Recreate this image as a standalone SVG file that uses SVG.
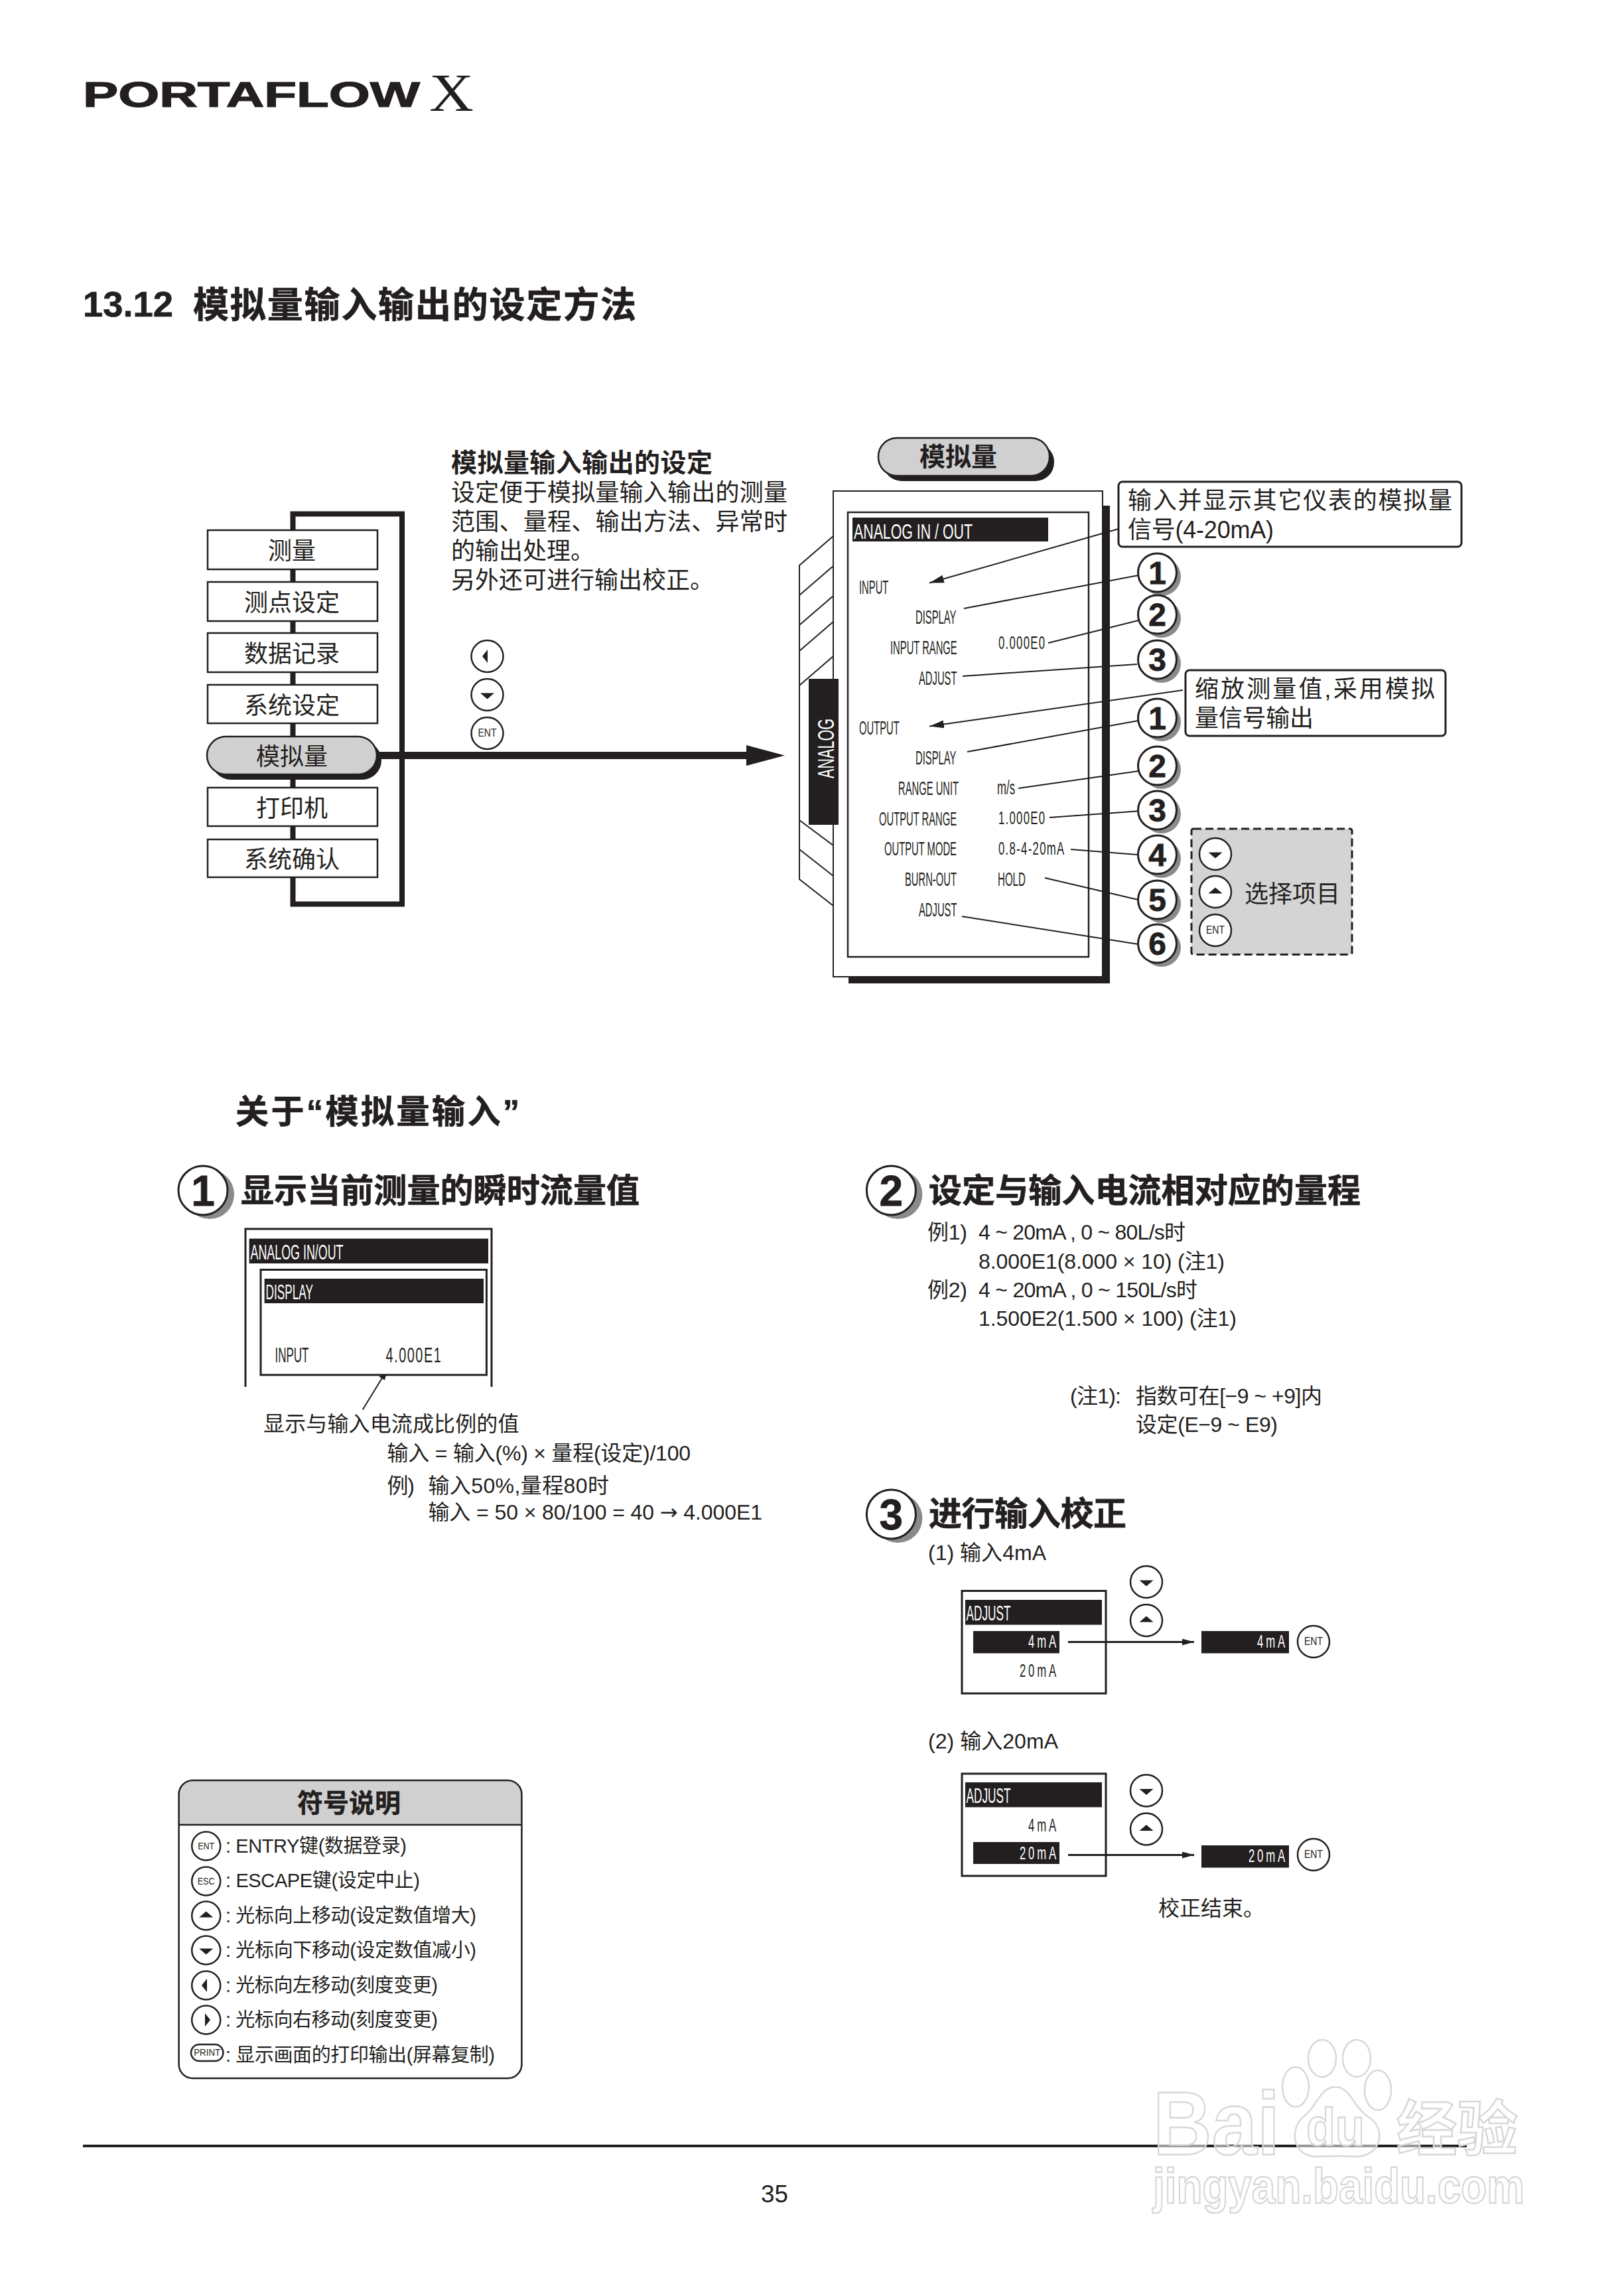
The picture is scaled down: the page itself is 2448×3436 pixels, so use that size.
<svg xmlns="http://www.w3.org/2000/svg" width="2448" height="3436" viewBox="0 0 2448 3436">
<style>
text{font-family:"Liberation Sans","Noto Sans CJK SC",sans-serif;fill:#231f20}
.c{font-size:36px}.t{font-size:32px}.h{font-size:50px;font-weight:700;stroke:#231f20;stroke-width:.7}.b{font-weight:700}
.lab{font-size:29px}.val{font-size:27px}.lcd{font-size:32px}.w{fill:#fff}
.sm{font-size:29px}
.box{fill:#fff;stroke:#231f20;stroke-width:2.5}
.key{fill:#fff;stroke:#231f20;stroke-width:2.5}
.num{fill:#fff;stroke:#231f20;stroke-width:3}
.sh{fill:#8a8a8a}
.ld{fill:none;stroke:#231f20;stroke-width:2}
.blk{fill:#231f20}
.wm{fill:#fff;fill-opacity:.55;stroke:#d8d8d8;stroke-width:2.5}
.wmt{fill:#fff;fill-opacity:.55;stroke:#d8d8d8;stroke-width:2.5;font-weight:700}
.d{font-size:48px;font-weight:700;text-anchor:middle;stroke:#231f20;stroke-width:.8}
.D{font-size:64px;font-weight:700;text-anchor:middle;stroke:#231f20;stroke-width:.8}
.e{font-size:17px;text-anchor:middle}
.e2{font-size:15px;text-anchor:middle}
</style>
<defs>
<marker id="ah" markerUnits="userSpaceOnUse" markerWidth="24" markerHeight="12" refX="22" refY="6" orient="auto"><path d="M0,0 L22,6 L0,12 Z" fill="#231f20"/></marker>
<marker id="ah2" markerUnits="userSpaceOnUse" markerWidth="20" markerHeight="12" refX="18" refY="5" orient="auto"><path d="M0,0 L18,5 L0,10 Z" fill="#231f20"/></marker>
<polygon id="up" points="-10.5,4.5 10.5,4.5 0,-4.5" fill="#231f20"/>
<polygon id="dn" points="-10.5,-4.5 10.5,-4.5 0,4.5" fill="#231f20"/>
<polygon id="lf" points="4,-10 4,10 -4,0" fill="#231f20"/>
<polygon id="rt" points="-4,-10 -4,10 4,0" fill="#231f20"/>
</defs>

<g id="logo">
<text x="125" y="161" font-size="53" class="b" stroke="#231f20" stroke-width="1.2" textLength="508" lengthAdjust="spacingAndGlyphs">PORTAFLOW</text>
<text x="647" y="167" font-size="80" style="font-family:'Liberation Serif',serif" textLength="67" lengthAdjust="spacingAndGlyphs">X</text>
</g>
<g id="title">
<text x="125" y="477" font-size="54" class="b" stroke="#231f20" stroke-width=".7" textLength="136" lengthAdjust="spacingAndGlyphs">13.12</text>
<text x="291" y="479" font-size="54" class="b" stroke="#231f20" stroke-width=".7" textLength="668">模拟量输入输出的设定方法</text>
</g>

<g id="menu">
<path d="M441.5 1362.5V774.5H606V1362.5Z" fill="none" stroke="#231f20" stroke-width="8"/>
<g id="m1"><rect class="box" x="313" y="799" width="256" height="59"/><text class="c" x="404" y="843" textLength="72">测量</text></g>
<g id="m2"><rect class="box" x="313" y="877" width="256" height="59"/><text class="c" x="368" y="921" textLength="144">测点设定</text></g>
<g id="m3"><rect class="box" x="313" y="954" width="256" height="59"/><text class="c" x="368" y="998" textLength="144">数据记录</text></g>
<g id="m4"><rect class="box" x="313" y="1032" width="256" height="58"/><text class="c" x="368" y="1076" textLength="144">系统设定</text></g>
<g id="m5"><rect class="blk" x="319" y="1117" width="256" height="58" rx="29"/><rect x="312" y="1110" width="256" height="57" rx="28.5" fill="#d0d0d0" stroke="#231f20" stroke-width="2.5"/><text class="c" x="386" y="1153" textLength="108">模拟量</text></g>
<g id="m6"><rect class="box" x="313" y="1187" width="256" height="58"/><text class="c" x="386" y="1231" textLength="108">打印机</text></g>
<g id="m7"><rect class="box" x="313" y="1265" width="256" height="57"/><text class="c" x="368" y="1308" textLength="144">系统确认</text></g>
</g>
<g id="main-arrow">
<rect class="blk" x="571" y="1133" width="556" height="11"/>
<polygon class="blk" points="1125,1123 1183,1138.5 1125,1154"/>
</g>

<g id="intro">
<text x="680" y="711" font-size="39" class="b" textLength="394">模拟量输入输出的设定</text>
<text class="c" x="680" y="755" textLength="507">设定便于模拟量输入输出的测量</text>
<text class="c" x="680" y="799" textLength="507">范围、量程、输出方法、异常时</text>
<text class="c" x="680" y="843" textLength="216">的输出处理。</text>
<text class="c" x="680" y="887" textLength="396">另外还可进行输出校正。</text>
</g>
<g id="keys-nav">
<circle class="key" cx="734.5" cy="989" r="24"/><use href="#lf" x="731" y="989"/>
<circle class="key" cx="734.5" cy="1047" r="24"/><use href="#dn" x="734.5" y="1049"/>
<circle class="key" cx="734.5" cy="1105" r="24"/><text class="e" x="734.5" y="1110" textLength="28" lengthAdjust="spacingAndGlyphs">ENT</text>
</g>

<g id="pill-analog">
<rect class="blk" x="1331" y="668" width="258" height="57" rx="28"/>
<rect x="1324" y="660" width="258" height="57" rx="28" fill="#d0d0d0" stroke="#231f20" stroke-width="2.5"/>
<text x="1386" y="702" font-size="39" class="b" textLength="117">模拟量</text>
</g>

<g id="device">
<path d="M1279 1472V1482H1673V762H1662V1472Z" class="blk"/>
<path class="ld" d="M1256 808L1205 852V1325L1256 1365M1256 853L1205 897M1256 898L1205 942M1256 937L1205 981M1256 989L1205 1033M1205 1236L1256 1274M1205 1280L1256 1320"/>
<rect x="1256" y="740" width="406" height="732" fill="#fff" stroke="#231f20" stroke-width="2"/>
<rect x="1278" y="772" width="363" height="670" fill="#fff" stroke="#231f20" stroke-width="2.5"/>
<rect class="blk" x="1285" y="780" width="295" height="36"/>
<text class="lcd w" x="1287" y="812" textLength="179" lengthAdjust="spacingAndGlyphs">ANALOG IN / OUT</text>
<rect class="blk" x="1219" y="1023" width="45" height="220"/>
<text class="w" font-size="35" transform="translate(1257 1173) rotate(-90)" textLength="90" lengthAdjust="spacingAndGlyphs">ANALOG</text>
<text class="lab" transform="translate(1295 895) scale(.51 1)">INPUT</text>
<text class="lab" transform="translate(1380 940) scale(.51 1)">DISPLAY</text>
<text class="lab" transform="translate(1342 986) scale(.51 1)">INPUT RANGE</text>
<text class="lab" transform="translate(1385 1032) scale(.51 1)">ADJUST</text>
<text class="lab" transform="translate(1295 1107) scale(.51 1)">OUTPUT</text>
<text class="lab" transform="translate(1380 1152) scale(.51 1)">DISPLAY</text>
<text class="lab" transform="translate(1354 1198) scale(.51 1)">RANGE UNIT</text>
<text class="lab" transform="translate(1325 1244) scale(.51 1)">OUTPUT RANGE</text>
<text class="lab" transform="translate(1333 1289) scale(.51 1)">OUTPUT MODE</text>
<text class="lab" transform="translate(1364 1335) scale(.51 1)">BURN-OUT</text>
<text class="lab" transform="translate(1385 1381) scale(.51 1)">ADJUST</text>
<text class="val" transform="translate(1505 978) scale(.62 1)" textLength="113">0.000E0</text>
<text class="lab" transform="translate(1503 1197) scale(.58 1)">m/s</text>
<text class="val" transform="translate(1505 1242) scale(.62 1)" textLength="113">1.000E0</text>
<text class="val" transform="translate(1505 1288) scale(.62 1)" textLength="160">0.8-4-20mA</text>
<text class="lab" transform="translate(1504 1335) scale(.52 1)">HOLD</text>
</g>

<g id="connectors">
<line class="ld" x1="1686" y1="797" x2="1401" y2="878.5" marker-end="url(#ah)"/>
<line class="ld" x1="1783" y1="1040" x2="1401" y2="1094.5" marker-end="url(#ah)"/>
<line class="ld" x1="1453" y1="917" x2="1716" y2="867"/>
<line class="ld" x1="1580" y1="969" x2="1716" y2="935"/>
<line class="ld" x1="1451" y1="1019" x2="1714" y2="1001"/>
<line class="ld" x1="1458" y1="1133" x2="1716" y2="1086"/>
<line class="ld" x1="1535" y1="1188" x2="1716" y2="1162"/>
<line class="ld" x1="1582" y1="1232" x2="1714" y2="1222.5"/>
<line class="ld" x1="1614" y1="1280" x2="1714" y2="1288"/>
<line class="ld" x1="1575" y1="1323" x2="1716" y2="1356"/>
<line class="ld" x1="1450" y1="1381" x2="1716" y2="1423"/>
<line class="ld" x1="546.6" y1="2124.6" x2="585" y2="2062" marker-end="url(#ah2)"/>
<line x1="1610" y1="2474.6" x2="1800" y2="2474.6" stroke="#231f20" stroke-width="3" marker-end="url(#ah2)"/>
<line x1="1610" y1="2795.5" x2="1800" y2="2795.5" stroke="#231f20" stroke-width="3" marker-end="url(#ah2)"/>
</g>

<g id="callout-1">
<rect x="1686" y="726" width="517" height="98" rx="6" fill="#fff" stroke="#231f20" stroke-width="3"/>
<text class="c" x="1700" y="767" textLength="489">输入并显示其它仪表的模拟量</text>
<text class="c" x="1700" y="811" textLength="220">信号(4-20mA)</text>
</g>
<g id="callout-2">
<rect x="1787" y="1010" width="392" height="99" rx="6" fill="#fff" stroke="#231f20" stroke-width="3"/>
<text class="c" x="1801" y="1051" textLength="362">缩放测量值,采用模拟</text>
<text class="c" x="1801" y="1095" textLength="179">量信号输出</text>
</g>

<g id="badges">
<circle class="sh" cx="1751" cy="869" r="29"/><circle class="num" cx="1744.5" cy="863" r="29"/><text class="d" x="1744.5" y="880">1</text>
<circle class="sh" cx="1751" cy="932" r="29"/><circle class="num" cx="1744.5" cy="926" r="29"/><text class="d" x="1744.5" y="943">2</text>
<circle class="sh" cx="1751" cy="1000" r="29"/><circle class="num" cx="1744.5" cy="994" r="29"/><text class="d" x="1744.5" y="1011">3</text>
<circle class="sh" cx="1751" cy="1088" r="29"/><circle class="num" cx="1744.5" cy="1082" r="29"/><text class="d" x="1744.5" y="1099">1</text>
<circle class="sh" cx="1751" cy="1160" r="29"/><circle class="num" cx="1744.5" cy="1154" r="29"/><text class="d" x="1744.5" y="1171">2</text>
<circle class="sh" cx="1751" cy="1227" r="29"/><circle class="num" cx="1744.5" cy="1221" r="29"/><text class="d" x="1744.5" y="1238">3</text>
<circle class="sh" cx="1751" cy="1294" r="29"/><circle class="num" cx="1744.5" cy="1288" r="29"/><text class="d" x="1744.5" y="1305">4</text>
<circle class="sh" cx="1751" cy="1362" r="29"/><circle class="num" cx="1744.5" cy="1356" r="29"/><text class="d" x="1744.5" y="1373">5</text>
<circle class="sh" cx="1751" cy="1428" r="29"/><circle class="num" cx="1744.5" cy="1422" r="29"/><text class="d" x="1744.5" y="1439">6</text>
</g>

<g id="select-box">
<rect x="1796" y="1249" width="242" height="189.500" rx="3" fill="#d4d4d4" stroke="#231f20" stroke-width="3" stroke-dasharray="12 6"/>
<circle class="key" cx="1832" cy="1287" r="24"/><use href="#dn" x="1832" y="1289"/>
<circle class="key" cx="1832" cy="1344" r="24"/><use href="#up" x="1832" y="1342"/>
<circle class="key" cx="1832" cy="1402" r="24"/><text class="e" x="1832" y="1407" textLength="28" lengthAdjust="spacingAndGlyphs">ENT</text>
<text class="c" x="1876" y="1360" textLength="144">选择项目</text>
</g>

<g id="sec-head"><text class="h" x="355" y="1693" textLength="428">关于“模拟量输入”</text></g>

<g id="sec-1">
<circle class="sh" cx="316" cy="1800" r="37"/><circle class="num" cx="306" cy="1794" r="37"/><text class="D" x="306" y="1817">1</text>
<text class="h" x="363" y="1812" textLength="601">显示当前测量的瞬时流量值</text>
<path d="M370 2090V1852H741V2090" fill="none" stroke="#231f20" stroke-width="3"/>
<rect class="blk" x="375.600" y="1866.600" width="360.400" height="37.400"/>
<text class="lcd w" x="377.500" y="1898" textLength="140" lengthAdjust="spacingAndGlyphs">ANALOG IN/OUT</text>
<rect x="393" y="1913.500" width="340.400" height="158.500" fill="#fff" stroke="#231f20" stroke-width="3"/>
<rect class="blk" x="398.600" y="1927" width="330.400" height="37"/>
<text class="lcd w" x="400.500" y="1958" textLength="71.500" lengthAdjust="spacingAndGlyphs">DISPLAY</text>
<text class="lcd" x="414.500" y="2053" textLength="51" lengthAdjust="spacingAndGlyphs">INPUT</text>
<text class="lcd" transform="translate(581.600 2053) scale(.62 1)" textLength="134">4.000E1</text>
<text class="t" x="397" y="2157" textLength="385.500">显示与输入电流成比例的值</text>
<text class="t" x="583.500" y="2201" textLength="457.500">输入 = 输入(%) × 量程(设定)/100</text>
<text class="t" x="583.500" y="2250" textLength="41.500">例)</text>
<text class="t" x="645.400" y="2250" textLength="272.600">输入50%,量程80时</text>
<text class="t" x="645.400" y="2290" textLength="503.600">输入 = 50 × 80/100 = 40 <tspan style="font-family:'DejaVu Sans',sans-serif">→</tspan> 4.000E1</text>
</g>

<g id="sec-2">
<circle class="sh" cx="1353.400" cy="1800" r="37"/><circle class="num" cx="1343.400" cy="1794" r="37"/><text class="D" x="1343.400" y="1817">2</text>
<text class="h" x="1400" y="1812" textLength="651">设定与输入电流相对应的量程</text>
<text class="t" x="1398" y="1868" textLength="60">例1)</text>
<text class="t" x="1475" y="1868" textLength="312">4 ~ 20mA , 0 ~ 80L/s时</text>
<text class="t" x="1475" y="1912" textLength="371">8.000E1(8.000 × 10) (注1)</text>
<text class="t" x="1398" y="1955" textLength="60">例2)</text>
<text class="t" x="1475" y="1955" textLength="330">4 ~ 20mA , 0 ~ 150L/s时</text>
<text class="t" x="1475" y="1998" textLength="389">1.500E2(1.500 × 100) (注1)</text>
<text class="t" x="1613" y="2115" textLength="77">(注1):</text>
<text class="t" x="1712" y="2115" textLength="281">指数可在[−9 ~ +9]内</text>
<text class="t" x="1712" y="2158" textLength="214">设定(E−9 ~ E9)</text>
</g>

<g id="sec-3">
<circle class="sh" cx="1353.400" cy="2288" r="37"/><circle class="num" cx="1343.400" cy="2282" r="37"/><text class="D" x="1343.400" y="2305">3</text>
<text class="h" x="1400" y="2299" textLength="298">进行输入校正</text>
<text class="t" x="1399" y="2350.600" textLength="178">(1) 输入4mA</text>
<rect x="1450" y="2397.500" width="217" height="154.500" fill="none" stroke="#231f20" stroke-width="3"/>
<rect class="blk" x="1455" y="2411" width="206" height="37.600"/>
<text class="lcd w" x="1456.500" y="2442" textLength="67" lengthAdjust="spacingAndGlyphs">ADJUST</text>
<rect class="blk" x="1467" y="2458" width="130" height="33.500"/>
<text class="val w" transform="translate(1550 2483) scale(.62 1)" textLength="68">4mA</text>
<text class="val" transform="translate(1537 2527) scale(.62 1)" textLength="89">20mA</text>
<rect class="blk" x="1811" y="2458" width="132" height="33.500"/>
<text class="val w" transform="translate(1895 2483) scale(.62 1)" textLength="68">4mA</text>
<circle class="key" cx="1980" cy="2474" r="24"/><text class="e" x="1980" y="2479" textLength="28" lengthAdjust="spacingAndGlyphs">ENT</text>
<circle class="key" cx="1728" cy="2384" r="24"/><use href="#dn" x="1728" y="2386"/>
<circle class="key" cx="1728" cy="2442" r="24"/><use href="#up" x="1728" y="2440"/>

<text class="t" x="1399" y="2635" textLength="196">(2) 输入20mA</text>
<rect x="1450" y="2673" width="217" height="154" fill="none" stroke="#231f20" stroke-width="3"/>
<rect class="blk" x="1455" y="2686" width="206" height="37.500"/>
<text class="lcd w" x="1456.500" y="2716.600" textLength="67" lengthAdjust="spacingAndGlyphs">ADJUST</text>
<text class="val" transform="translate(1550 2759.500) scale(.62 1)" textLength="68">4mA</text>
<rect class="blk" x="1467" y="2776" width="130" height="33"/>
<text class="val w" transform="translate(1537 2801.600) scale(.62 1)" textLength="89">20mA</text>
<rect class="blk" x="1811" y="2781" width="132" height="33.600"/>
<text class="val w" transform="translate(1882 2806) scale(.62 1)" textLength="89">20mA</text>
<circle class="key" cx="1980" cy="2795" r="24"/><text class="e" x="1980" y="2800" textLength="28" lengthAdjust="spacingAndGlyphs">ENT</text>
<circle class="key" cx="1728" cy="2698.400" r="24"/><use href="#dn" x="1728" y="2700.400"/>
<circle class="key" cx="1728" cy="2756.500" r="24"/><use href="#up" x="1728" y="2754.500"/>
<text class="t" x="1746" y="2887" textLength="160">校正结束。</text>
</g>

<g id="legend">
<path d="M269.600 2750V2704A21 21 0 0 1 290.600 2683H765.400A21 21 0 0 1 786.400 2704V2750Z" fill="#d0d0d0"/>
<rect x="269.600" y="2683" width="516.800" height="449" rx="21" fill="none" stroke="#231f20" stroke-width="2.500"/>
<line x1="269.600" y1="2750" x2="786.400" y2="2750" stroke="#231f20" stroke-width="2.500"/>
<text x="448" y="2731" font-size="39" class="b" stroke="#231f20" stroke-width=".5" textLength="156">符号说明</text>
<circle class="key" cx="310.700" cy="2782" r="21.500"/><text class="e2" x="310.700" y="2787" textLength="25" lengthAdjust="spacingAndGlyphs">ENT</text>
<circle class="key" cx="310.700" cy="2835" r="21.500"/><text class="e2" x="310.700" y="2840" textLength="26" lengthAdjust="spacingAndGlyphs">ESC</text>
<circle class="key" cx="310.700" cy="2887" r="21.500"/><use href="#up" x="310.700" y="2885"/>
<circle class="key" cx="310.700" cy="2939" r="21.500"/><use href="#dn" x="310.700" y="2941"/>
<circle class="key" cx="310.700" cy="2992" r="21.500"/><use href="#lf" x="308" y="2992"/>
<circle class="key" cx="310.700" cy="3044" r="21.500"/><use href="#rt" x="313" y="3044"/>
<rect class="key" x="288" y="3081" width="48.400" height="25" rx="12.500"/><text class="e2" x="312.200" y="3098" textLength="40" lengthAdjust="spacingAndGlyphs">PRINT</text>
<text class="sm" x="340" y="2792" textLength="273">: ENTRY键(数据登录)</text>
<text class="sm" x="340" y="2844" textLength="293">: ESCAPE键(设定中止)</text>
<text class="sm" x="340" y="2897" textLength="378">: 光标向上移动(设定数值增大)</text>
<text class="sm" x="340" y="2949" textLength="378">: 光标向下移动(设定数值减小)</text>
<text class="sm" x="340" y="3002" textLength="320">: 光标向左移动(刻度变更)</text>
<text class="sm" x="340" y="3054" textLength="320">: 光标向右移动(刻度变更)</text>
<text class="sm" x="340" y="3107" textLength="406">: 显示画面的打印输出(屏幕复制)</text>
</g>

<g id="footer">
<rect class="blk" x="125" y="3232" width="2086" height="4"/>
<text x="1147" y="3319" font-size="37" textLength="41" lengthAdjust="spacingAndGlyphs">35</text>
</g>

<g id="watermark">
<text class="wmt" x="1738" y="3247" font-size="135" textLength="191" lengthAdjust="spacingAndGlyphs">Bai</text>
<ellipse class="wm" cx="1993" cy="3102" rx="21" ry="28"/>
<ellipse class="wm" cx="2045" cy="3102" rx="21" ry="28"/>
<ellipse class="wm" cx="1953" cy="3145" rx="20" ry="30"/>
<ellipse class="wm" cx="2077" cy="3150" rx="20" ry="30"/>
<path class="wm" d="M2013 3145C1990 3145 1985 3175 1965 3190C1945 3205 1945 3250 1985 3250C2000 3250 2025 3248 2040 3250C2085 3252 2090 3205 2062 3190C2040 3175 2035 3145 2013 3145Z"/>
<text class="wmt" x="1969" y="3233" font-size="80" textLength="88" lengthAdjust="spacingAndGlyphs">du</text>
<text class="wmt" x="2105" y="3240" font-size="90" textLength="183" lengthAdjust="spacingAndGlyphs">经验</text>
<text class="wmt" x="1738" y="3320" font-size="75" textLength="560" lengthAdjust="spacingAndGlyphs">jingyan.baidu.com</text>
</g>
</svg>
